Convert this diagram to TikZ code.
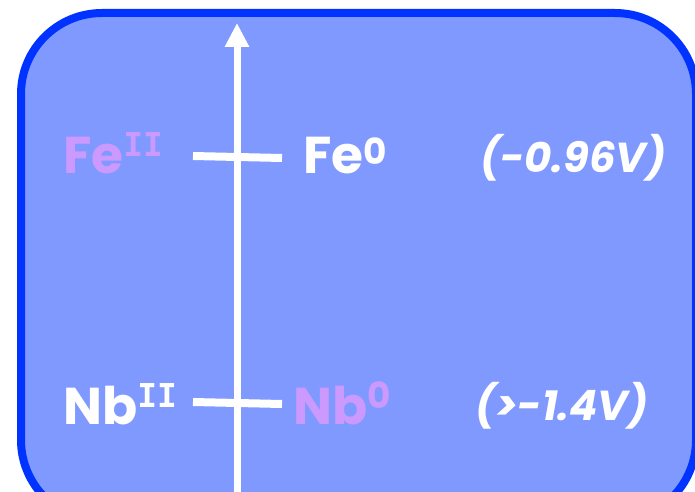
\documentclass[tikz,border=0pt]{standalone}
\usepackage{fontspec}
\setmainfont{Poppins}
\newfontfamily\romfont{DejaVu Sans Mono}
\usetikzlibrary{arrows.meta}
\definecolor{boxfill}{RGB}{128,153,255}
\definecolor{boxedge}{RGB}{0,51,255}
\definecolor{lilac}{RGB}{204,153,255}
\newcommand{\supII}[1]{{\romfont\fontsize{33}{40}\selectfont\bfseries\raisebox{#1}{II}}}
\newcommand{\supO}[1]{{\fontsize{36}{40}\selectfont\raisebox{#1}{0}}}
\begin{document}
\begin{tikzpicture}[x=1bp,y=-1bp,
  lbl/.style={inner sep=0pt, anchor=base west, font=\fontsize{52}{60}\selectfont\bfseries},
  volt/.style={inner sep=0pt, anchor=base west, text=white, font=\fontsize{42}{48}\selectfont\bfseries\itshape},
  tickline/.style={draw=white, line width=8bp},
]
\useasboundingbox (0,0) rectangle (695,492);
\begin{scope}
\clip (0,0) rectangle (695,492);
\draw[fill=boxfill, draw=boxedge, line width=8bp, rounded corners=81bp] (21,13) rectangle (696,521);
\end{scope}
% axis
\coordinate (axb) at (237,492);
\coordinate (axt) at (237,23);
\draw[draw=white, line width=7bp, -{Triangle[width=23bp,length=24bp]}] (axb) -- (axt);
% ticks
\coordinate (fel) at (193,156);
\coordinate (fer) at (282,158);
\coordinate (nbl) at (193,402);
\coordinate (nbr) at (282,404);
\draw[tickline] (fel) -- (fer);
\draw[tickline] (nbl) -- (nbr);
% labels
\node[lbl, text=lilac] (fe2) at (63,174) {Fe\supII{17bp}};
\node[lbl, text=white] (fe0) at (303,174) {Fe\supO{9bp}};
\node[volt] (vfe) at (480,173) {(-0.96V)};
\node[lbl, text=white] (nb2) at (63,424) {Nb\supII{17bp}};
\node[lbl, text=lilac] (nb0) at (293,424) {Nb\supO{16bp}};
\node[volt] (vnb) at (475,420) {(>-1.4V)};
\end{tikzpicture}
\end{document}
